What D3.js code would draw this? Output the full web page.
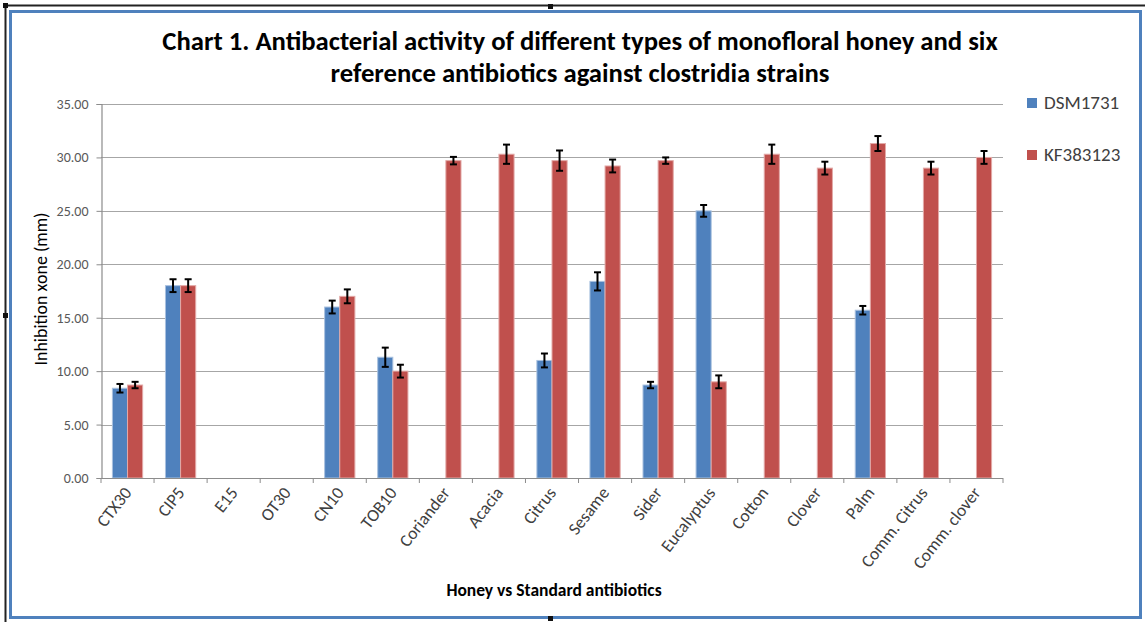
<!DOCTYPE html>
<html>
<head>
<meta charset="utf-8">
<script src="https://cdn.jsdelivr.net/npm/d3@7"></script>
<style>
  body { margin: 0; background: #fff; }
  svg { display: block; font-family: Carlito, Lato, "Open Sans", sans-serif; }
</style>
</head>
<body>
<div id="chart"></div>
<script>
// categories and series (null = no bar)
var categories = ["CTX30", "CIP5", "E15", "OT30", "CN10", "TOB10", "Coriander", "Acacia",
    "Citrus", "Sesame", "Sider", "Eucalyptus", "Cotton", "Clover", "Palm", "Comm. Citrus", "Comm. clover"];
var seriesNames = ["DSM1731", "KF383123"];
var dsmValues = [8.4, 18.0, null, null, 16.0, 11.3, null, null, 11.0, 18.4, 8.7, 25.0, null, null, 15.7, null, null];
var dsmErrors = [0.4, 0.6, null, null, 0.6, 0.9, null, null, 0.65, 0.85, 0.3, 0.55, null, null, 0.4, null, null];
var kfValues = [8.7, 18.0, null, null, 17.0, 10.0, 29.7, 30.3, 29.7, 29.2, 29.7, 9.0, 30.3, 29.0, 31.3, 29.0, 30.0];
var kfErrors = [0.3, 0.6, null, null, 0.65, 0.6, 0.35, 0.9, 0.95, 0.6, 0.3, 0.6, 0.9, 0.6, 0.7, 0.6, 0.6];
var yTicks = [0, 5, 10, 15, 20, 25, 30, 35];
var colors = ["#4f81bd", "#c0504d"];
var halo = ["#a9c1df", "#e3a9a7"];

var W = 1145, H = 622;
var svg = d3.select("#chart").append("svg")
    .attr("width", W)
    .attr("height", H);

// frame
svg.append("rect").attr("width", W).attr("height", H).attr("fill", "white");
svg.append("line").attr("x1", 5.5).attr("x2", 5.5).attr("y1", 5).attr("y2", H)
    .attr("stroke", "#222").attr("stroke-width", 2);
svg.append("line").attr("x1", 5).attr("x2", W).attr("y1", 5.5).attr("y2", 5.5)
    .attr("stroke", "#222").attr("stroke-width", 2);
svg.append("rect")
    .attr("x", 10.5).attr("y", 11.5)
    .attr("width", 1130).attr("height", 606)
    .attr("fill", "none")
    .attr("stroke", "#4f81bd")
    .attr("stroke-width", 3);
[[3, 3], [548, 4], [3, 313], [548, 616]].forEach(p => {
    svg.append("rect").attr("x", p[0]).attr("y", p[1]).attr("width", 5).attr("height", 5)
        .attr("fill", "#111");
});

var plotLeft = 101, plotRight = 1003, plotTop = 104, plotBottom = 478;

var x = d3.scaleBand()
    .domain(categories)
    .range([plotLeft, plotRight])
    .padding(0);

var groupW = x.bandwidth() * 0.57;
var xs = d3.scaleBand()
    .domain(seriesNames)
    .range([0, groupW]);

var y = d3.scaleLinear()
    .domain([0, 35])
    .range([plotBottom, plotTop]);

// gridlines
svg.append("g").selectAll("line")
    .data(yTicks.filter(d => d > 0))
    .join("line")
    .attr("x1", plotLeft).attr("x2", plotRight)
    .attr("y1", d => Math.round(y(d)) + 0.5)
    .attr("y2", d => Math.round(y(d)) + 0.5)
    .attr("stroke", "#a6a6a6")
    .attr("stroke-width", 1.2);

// y axis
var yAxis = svg.append("g")
    .attr("transform", `translate(${plotLeft + 0.5},0)`)
    .call(d3.axisLeft(y).tickValues(yTicks).tickFormat(d3.format(".2f")).tickSize(5).tickPadding(8));
yAxis.select(".domain").attr("stroke", "#8c8c8c").attr("stroke-width", 1.2);
yAxis.selectAll(".tick line").attr("stroke", "#8c8c8c");
yAxis.selectAll("text")
    .attr("font-size", 14)
    .attr("fill", "#595959")
    .attr("font-family", "Carlito, Lato, 'Open Sans', sans-serif");

// bars
var series = [
    { name: seriesNames[0], values: dsmValues, errors: dsmErrors },
    { name: seriesNames[1], values: kfValues, errors: kfErrors }
];

series.forEach((s, si) => {
    var pts = categories.map((c, i) => ({ c: c, v: s.values[i], e: s.errors[i] }))
        .filter(d => d.v !== null);
    var off = (x.bandwidth() - groupW) / 2;

    svg.append("g").selectAll("rect")
        .data(pts)
        .join("rect")
        .attr("x", d => x(d.c) + off + xs(s.name))
        .attr("y", d => y(d.v))
        .attr("width", xs.bandwidth())
        .attr("height", d => plotBottom - y(d.v))
        .attr("fill", colors[si])
        .attr("stroke", halo[si])
        .attr("stroke-width", 1);

    var eb = svg.append("g").selectAll("g")
        .data(pts)
        .join("g")
        .attr("transform", d => `translate(${x(d.c) + off + xs(s.name) + xs.bandwidth() / 2},0)`);
    eb.append("line")
        .attr("y1", d => y(d.v + d.e)).attr("y2", d => y(d.v - d.e))
        .attr("stroke", "#000").attr("stroke-width", 2);
    eb.append("line")
        .attr("x1", -3.5).attr("x2", 3.5)
        .attr("y1", d => y(d.v + d.e)).attr("y2", d => y(d.v + d.e))
        .attr("stroke", "#000").attr("stroke-width", 2);
    eb.append("line")
        .attr("x1", -3.5).attr("x2", 3.5)
        .attr("y1", d => y(d.v - d.e)).attr("y2", d => y(d.v - d.e))
        .attr("stroke", "#000").attr("stroke-width", 2);
});

// x axis
svg.append("line")
    .attr("x1", plotLeft).attr("x2", plotRight)
    .attr("y1", plotBottom + 0.5).attr("y2", plotBottom + 0.5)
    .attr("stroke", "#8c8c8c").attr("stroke-width", 1.2);
svg.append("g").selectAll("line")
    .data(categories.concat(["end"]))
    .join("line")
    .attr("x1", (d, i) => i < categories.length ? x(d) : plotRight)
    .attr("x2", (d, i) => i < categories.length ? x(d) : plotRight)
    .attr("y1", plotBottom).attr("y2", plotBottom + 5)
    .attr("stroke", "#8c8c8c");

svg.append("g").selectAll("text")
    .data(categories)
    .join("text")
    .attr("text-anchor", "end")
    .attr("transform", d => `translate(${x(d) + x.bandwidth() / 2 + 5},${plotBottom + 15}) rotate(-52)`)
    .attr("font-size", 17.5)
    .attr("fill", "#404040")
    .text(d => d);

// titles
svg.append("text")
    .attr("x", 580).attr("y", 50)
    .attr("text-anchor", "middle")
    .attr("font-size", 26.7)
    .attr("font-weight", "bold")
    .text("Chart 1. Antibacterial activity of different types of monofloral honey and six");
svg.append("text")
    .attr("x", 580).attr("y", 82)
    .attr("text-anchor", "middle")
    .attr("font-size", 26.7)
    .attr("font-weight", "bold")
    .text("reference antibiotics against clostridia strains");

svg.append("text")
    .attr("x", 554).attr("y", 596)
    .attr("text-anchor", "middle")
    .attr("font-size", 17.5)
    .attr("font-weight", "bold")
    .text("Honey vs Standard antibiotics");

svg.append("text")
    .attr("transform", "translate(47,289) rotate(-90)")
    .attr("text-anchor", "middle")
    .attr("font-size", 18)
    .text("Inhibition xone (mm)");

// legend
var legend = svg.append("g").selectAll("g")
    .data(seriesNames)
    .join("g")
    .attr("transform", (d, i) => `translate(1027,${103 + i * 52})`);
legend.append("rect")
    .attr("y", -5).attr("width", 10).attr("height", 10)
    .attr("fill", (d, i) => colors[i]);
legend.append("text")
    .attr("x", 17).attr("y", 6)
    .attr("font-size", 19)
    .attr("fill", "#404040")
    .text(d => d);
</script>
</body>
</html>
